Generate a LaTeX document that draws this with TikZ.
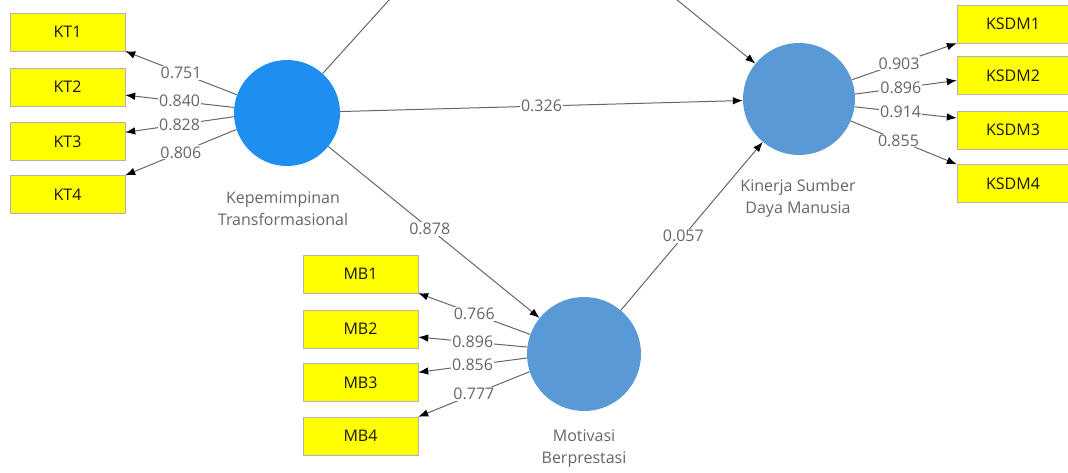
\documentclass[tikz,border=0pt]{standalone}
\usepackage{fontspec}
\setmainfont{Open Sans}
\usetikzlibrary{arrows,arrows.meta,positioning}
\tikzset{>={Latex[length=10pt,width=7.5pt,color=black]}}
\definecolor{ktblue}{RGB}{30,143,240}
\definecolor{lvblue}{RGB}{88,153,214}
\definecolor{indyellow}{RGB}{255,255,0}

\begin{document}
\begin{tikzpicture}[x=1pt, y=-1pt,
	every node/.style={font=\fontsize{16}{22}\selectfont},
	lv/.style={circle, fill=lvblue, minimum size=112pt, inner sep=0},
	ind/.style={draw=black!30, fill=indyellow, minimum width=115pt, minimum height=38pt, inner sep=0, text=black!90},
	lvname/.style={align=center, text=black!60},
	path/.style={draw=black!60, line width=1pt},
	coef/.style={fill=white, text=black!60, inner sep=1pt}]
		\clip (0,0) rectangle (1068,473);

		% latent variables
		\node[lv, fill=ktblue, minimum size=106pt] (kt) at (287,113) {};
		\node[lv] (ksdm) at (799,99) {};
		\node[lv, minimum size=114pt] (mb) at (584,354) {};
		\node[lvname] (ktname) at (283,209) {Kepemimpinan\\Transformasional};
		\node[lvname] (ksdmname) at (798,198) {Kinerja Sumber\\Daya Manusia};
		\node[lvname] (mbname) at (584,449) {Motivasi\\Berprestasi};

		% indicators
		\node[ind] (kt1) at (67.5,32) {KT1};
		\node[ind] (kt2) at (67.5,87) {KT2};
		\node[ind] (kt3) at (67.5,141.5) {KT3};
		\node[ind] (kt4) at (67.5,194.5) {KT4};
		\node[ind, minimum width=112pt] (ksdm1) at (1013,24) {KSDM1};
		\node[ind, minimum width=112pt] (ksdm2) at (1013,75.5) {KSDM2};
		\node[ind, minimum width=112pt] (ksdm3) at (1013,130) {KSDM3};
		\node[ind, minimum width=112pt] (ksdm4) at (1013,183.5) {KSDM4};
		\node[ind] (mb1) at (360.5,274) {MB1};
		\node[ind] (mb2) at (360.5,329) {MB2};
		\node[ind] (mb3) at (360.5,382.5) {MB3};
		\node[ind] (mb4) at (360.5,436) {MB4};

		% outer loadings
		\draw[path,->] (kt.160) -- (kt1.south east) node[coef,pos=.5] {0.751};
		\draw[path,->] (kt.174) -- (kt2.-8) node[coef,pos=.5] {0.840};
		\draw[path,->] (kt.-176) -- (kt3.9) node[coef,pos=.5] {0.828};
		\draw[path,->] (kt.-162) -- (kt4.north east) node[coef,pos=.5] {0.806};

		\draw[path,->] (ksdm.20) -- (ksdm1.south west) node[coef,pos=.45] {0.903};
		\draw[path,->] (ksdm.5) -- (ksdm2.185) node[coef,pos=.45] {0.896};
		\draw[path,->] (ksdm.-8) -- (ksdm3.168) node[coef,pos=.45] {0.914};
		\draw[path,->] (ksdm.-23) -- (ksdm4.north west) node[coef,pos=.45] {0.855};

		\draw[path,->] (mb.160) -- (mb1.south east) node[coef,pos=.5] {0.766};
		\draw[path,->] (mb.173) -- (mb2.-8) node[coef,pos=.5] {0.896};
		\draw[path,->] (mb.-176) -- (mb3.10) node[coef,pos=.5] {0.856};
		\draw[path,->] (mb.-162) -- (mb4.north east) node[coef,pos=.5] {0.777};

		% path coefficients
		\draw[path,->] (kt) -- (ksdm) node[coef,pos=.5] {0.326};
		\draw[path,->] (kt) -- (mb) node[coef,pos=.48] {0.878};
		\draw[path,->] (mb) -- (ksdm) node[coef,pos=.44] {0.057};

		% paths leaving the frame at the top
		\coordinate (outer) at (511,-135);
		\draw[path] (kt) -- (outer);
		\draw[path,->] (outer) -- (ksdm);
	\end{tikzpicture}
\end{document}
